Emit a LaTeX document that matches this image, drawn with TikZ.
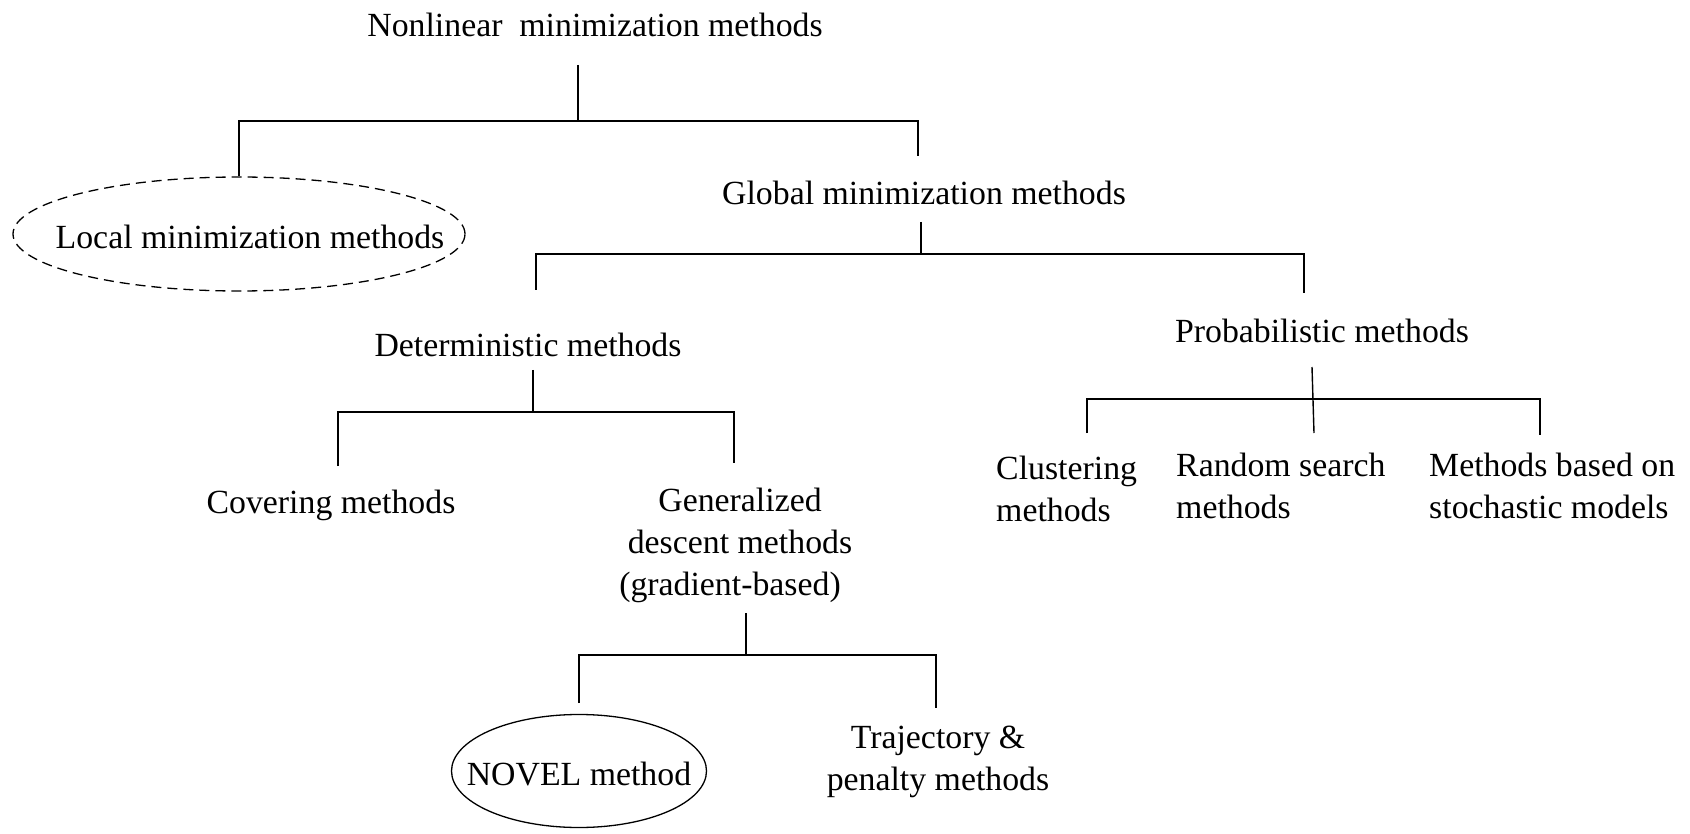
\documentclass[tikz,border=0pt]{standalone}
\usepackage{fontspec}
\setmainfont{Liberation Serif}
\usetikzlibrary{shapes.geometric}
\begin{document}
\begin{tikzpicture}[x=1pt,y=-1pt,
  lbl/.style={inner sep=0pt, font=\fontsize{33.8}{42}\selectfont, anchor=base},
  conn/.style={line width=1.4pt},
  oval/.style={draw, ellipse, inner sep=0pt, line width=1.3pt},
  dashedoval/.style={oval, dash pattern=on 10pt off 6pt}]
\useasboundingbox (0,0) rectangle (1690,834);

% texts (multi-line nodes are placed by the baseline of their last line)
\node[lbl] (root) at (595,37) {Nonlinear~~minimization methods};
\node[lbl] (global) at (924,205) {Global minimization methods};
\node[dashedoval, minimum width=452pt, minimum height=114pt] (localE) at (239,234) {};
\node[lbl] (local) at (250,249) {Local minimization methods};
\node[lbl] (det) at (528,357) {Deterministic methods};
\node[lbl] (prob) at (1322,343) {Probabilistic methods};
\node[lbl] (cover) at (331,513) {Covering methods};
\node[lbl, align=center] (gen) at (740,595) {Generalized\\descent methods\\(gradient-based)\hspace*{20pt}};
\node[lbl, align=left, anchor=base west] (clust) at (996,521) {Clustering\\methods};
\node[lbl, align=left, anchor=base west] (rand) at (1176,518) {Random search\\methods};
\node[lbl, align=left, anchor=base west] (stoch) at (1429,518) {Methods based on\\stochastic models};
\node[oval, minimum width=255pt, minimum height=113pt] (novelE) at (579,771) {};
\node[lbl] (novel) at (579,785) {NOVEL method};
\node[lbl, align=center] (traj) at (938,790) {Trajectory \&\\penalty methods};

% connector points
\coordinate (root-s) at (578,65);
\coordinate (root-j) at (578,121);
\coordinate (global-t) at (918,156);
\coordinate (global-s) at (921,222);
\coordinate (global-j) at (921,254);
\coordinate (det-t) at (536,290);
\coordinate (prob-t) at (1304,293);
\coordinate (det-s) at (533,370);
\coordinate (det-j) at (533,412);
\coordinate (cover-t) at (338,466);
\coordinate (gen-t) at (734,463);
\coordinate (prob-s) at (1312,367);
\coordinate (prob-j) at (1313,399);
\coordinate (rand-t) at (1314,433);
\coordinate (clust-t) at (1087,433);
\coordinate (stoch-t) at (1540,435);
\coordinate (gen-s) at (746,613);
\coordinate (gen-j) at (746,655);
\coordinate (novel-t) at (579,703);
\coordinate (traj-t) at (936,708);

% connectors
\draw[conn] (root-s) -- (root-j);
\draw[conn] (localE.north) |- (root-j) -| (global-t);
\draw[conn] (global-s) -- (global-j);
\draw[conn] (det-t) |- (global-j) -| (prob-t);
\draw[conn] (det-s) -- (det-j);
\draw[conn] (cover-t) |- (det-j) -| (gen-t);
\draw[conn] (prob-s) -- (rand-t);
\draw[conn] (clust-t) |- (prob-j) -| (stoch-t);
\draw[conn] (gen-s) -- (gen-j);
\draw[conn] (novel-t) |- (gen-j) -| (traj-t);
\end{tikzpicture}
\end{document}
